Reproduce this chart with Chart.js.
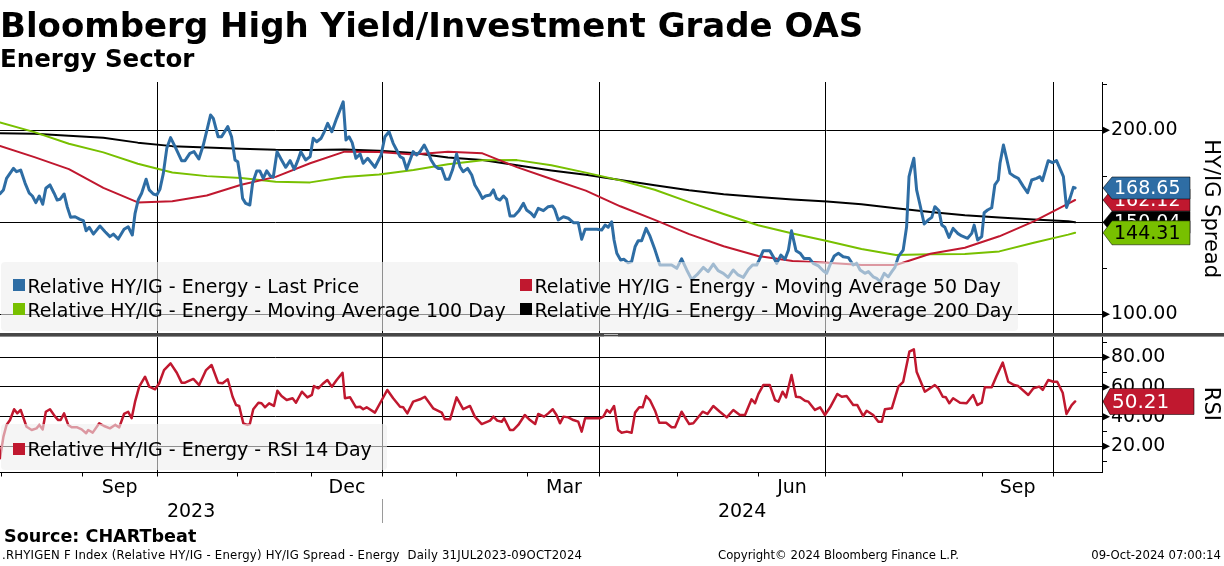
<!DOCTYPE html>
<html><head><meta charset="utf-8">
<script src="https://cdn.jsdelivr.net/npm/chart.js@4.4.1/dist/chart.umd.min.js"></script>
<style>
html,body{margin:0;padding:0;background:#fff;}
#wrap{position:relative;width:1224px;height:566px;overflow:hidden;font-family:'DejaVu Sans',sans-serif;color:#000;}
#c{position:absolute;left:0;top:0;}
.t{position:absolute;white-space:nowrap;}
.lg{position:absolute;background:rgba(238,238,238,0.6);border-radius:4px;}
.sq{position:absolute;width:12px;height:12px;}
.lt{position:absolute;white-space:nowrap;font-size:19px;line-height:19px;color:#000;}
.ft{position:absolute;white-space:nowrap;font-size:11.7px;line-height:11.7px;top:550.1px;}
</style></head>
<body>
<div id="wrap">
<canvas id="c" width="1224" height="566"></canvas>
<div class="t" style="left:0px;top:8.2px;font-size:34px;line-height:34px;font-weight:bold;">Bloomberg High Yield/Investment Grade OAS</div>
<div class="t" style="left:0px;top:47.3px;font-size:24.5px;line-height:24.5px;font-weight:bold;">Energy Sector</div>

<div class="lg" style="left:1px;top:262px;width:1017px;height:69px;"></div>
<div class="sq" style="left:13px;top:279px;background:#2e6da4;"></div>
<div class="lt" style="left:27.5px;top:277.2px;">Relative HY/IG - Energy - Last Price</div>
<div class="sq" style="left:520px;top:279px;background:#c0182f;"></div>
<div class="lt" style="left:534.5px;top:277.2px;">Relative HY/IG - Energy - Moving Average 50 Day</div>
<div class="sq" style="left:13px;top:303px;background:#78c000;"></div>
<div class="lt" style="left:27.5px;top:300.6px;">Relative HY/IG - Energy - Moving Average 100 Day</div>
<div class="sq" style="left:520px;top:303px;background:#000;"></div>
<div class="lt" style="left:534.5px;top:300.6px;">Relative HY/IG - Energy - Moving Average 200 Day</div>

<div class="lg" style="left:1px;top:424px;width:386px;height:46px;"></div>
<div class="sq" style="left:13px;top:443px;background:#c0182f;"></div>
<div class="lt" style="left:27.5px;top:439.6px;">Relative HY/IG - Energy - RSI 14 Day</div>

<div class="t" style="left:4px;top:528.1px;font-size:17.6px;line-height:17.6px;font-weight:bold;">Source: CHARTbeat</div>
<div class="ft" style="left:2px;letter-spacing:0.2px;">.RHYIGEN F Index (Relative HY/IG - Energy) HY/IG Spread - Energy&nbsp; Daily 31JUL2023-09OCT2024</div>
<div class="ft" style="left:718px;">Copyright© 2024 Bloomberg Finance L.P.</div>
<div class="ft" style="right:3px;">09-Oct-2024 07:00:14</div>
</div>
<script>
// ---- DATA (x = trading-day offset from 31 Jul 2023) ----
const priceDays = [0.0,1.0,1.9,3.9,4.8,6.0,7.3,8.5,9.4,10.4,11.4,12.4,13.3,14.5,15.7,16.6,17.4,18.6,19.5,20.5,21.8,23.2,24.2,25.0,25.9,27.1,29.0,30.5,31.9,32.9,34.3,36.0,37.2,38.4,39.2,40.1,41.1,42.4,43.3,44.5,45.5,46.4,47.4,48.4,49.5,50.8,52.7,53.7,55.1,56.3,57.7,59.0,61.1,61.9,63.3,64.3,66.1,67.2,68.2,69.0,69.8,70.4,71.3,72.5,73.3,74.5,75.4,76.4,77.4,78.4,79.3,80.4,81.7,82.9,84.2,85.4,86.4,87.3,88.7,90.0,90.9,91.9,93.2,94.1,95.1,96.3,97.7,99.6,100.4,101.3,102.2,103.3,104.5,105.4,106.7,108.8,110.6,111.7,112.9,114.1,115.1,116.1,117.0,118.0,119.0,119.9,120.9,121.9,123.1,124.1,125.1,126.2,127.2,128.2,129.3,130.3,131.3,132.5,133.5,134.4,135.7,136.9,137.8,139.0,140.0,140.9,142.2,143.2,144.1,145.1,146.1,147.0,148.0,149.2,150.6,151.9,152.8,154.1,155.0,156.2,157.7,159.1,160.3,161.0,162.0,163.5,164.9,166.4,167.8,168.8,169.8,171.2,173.2,174.6,175.6,176.5,177.5,178.2,179.0,180.1,181.1,182.3,183.3,184.3,185.2,186.2,187.5,188.6,190.1,191.5,193.0,194.9,196.4,197.8,199.3,200.7,202.2,204.1,205.5,207.0,208.4,209.9,211.3,212.8,214.2,215.7,217.2,218.4,219.6,220.3,221.5,223.4,224.4,225.4,226.6,227.8,228.8,229.7,231.0,232.2,233.3,234.9,236.0,237.5,238.9,239.9,240.9,242.1,243.3,244.7,246.2,247.6,248.6,249.6,251.0,252.0,253.4,254.4,255.4,256.6,257.8,258.8,259.7,260.7,262.1,263.1,263.8,264.4,265.2,266.0,267.0,268.2,269.4,270.4,271.3,272.5,273.3,274.2,275.4,276.6,277.9,279.1,280.8,282.0,282.7,283.7,284.9,285.6,286.6,287.8,288.7,289.7,290.2,291.2,292.1,293.1,294.5,295.5,297.0,298.2,299.4,300.8,301.8,302.5,304.2,305.4,306.6,308.6,309.5,310.5,311.5,312.0];
const priceVals = [165.6,167.6,173.9,179.3,177.5,178.4,171.2,165.8,164.3,160.7,164.3,159.8,168.5,170.3,165.8,162.1,162.5,165.4,158.5,152.7,153.0,151.6,150.9,145.4,147.3,143.6,148.0,144.9,142.2,143.6,140.9,146.2,147.6,143.1,154.9,162.1,165.8,173.4,167.6,165.4,164.8,167.9,176.6,190.2,196.0,191.1,183.5,183.5,187.5,188.4,184.4,192.0,208.3,206.5,196.5,196.5,202.0,196.5,183.9,182.9,173.0,163.0,160.3,159.4,171.2,177.9,177.9,173.9,178.0,175.2,174.5,188.4,183.9,179.9,183.5,178.8,183.5,188.4,183.9,185.7,195.7,193.8,195.7,199.2,203.8,199.2,206.5,215.5,194.7,196.5,193.3,184.8,187.1,182.1,184.8,179.9,186.6,196.5,199.2,192.9,189.3,185.7,184.8,178.8,183.9,188.4,186.6,188.4,192.0,188.4,183.9,180.6,179.3,179.3,173.4,173.4,178.4,187.1,180.2,177.5,179.3,175.7,170.3,166.6,163.0,164.3,164.8,167.6,163.0,162.1,164.3,162.5,153.4,153.4,156.3,160.3,156.7,154.9,153.0,157.6,156.3,158.5,158.9,157.0,151.3,153.0,152.2,149.8,149.8,140.8,146.2,146.2,146.2,145.8,148.5,147.3,150.3,140.4,133.2,129.5,129.9,128.0,128.6,136.7,140.0,140.0,146.7,142.6,134.9,126.8,126.8,126.8,125.0,130.1,124.1,119.0,121.4,125.5,123.2,127.3,123.7,122.3,120.1,124.1,121.4,120.1,124.5,126.8,126.8,129.5,134.6,134.6,131.3,127.7,132.2,129.9,134.9,145.4,134.6,133.2,130.4,130.4,127.7,126.3,123.7,122.3,127.0,131.7,133.2,131.3,130.8,126.8,127.7,124.1,122.3,123.2,120.4,119.6,117.7,122.3,120.4,123.2,125.5,131.3,134.9,147.6,174.8,179.3,184.8,167.6,159.4,149.1,151.3,152.7,158.5,156.3,148.5,147.3,141.8,146.7,144.0,142.6,141.3,144.0,148.5,140.4,142.2,155.2,156.7,157.9,170.3,173.0,182.1,192.0,184.8,176.6,174.8,173.9,169.4,166.1,173.0,173.9,174.8,172.6,183.5,182.4,183.5,174.8,158.1,163.0,169.0,168.65];

const maDays = [0,10,20,30,40,50,60,70,80,90,100,110,120,130,140,150,160,170,180,190,200,210,220,230,240,250,260,270,280,290,300,310,312];
const ma50  = [191.5,185.4,178.9,168.7,160.8,161.5,164.6,170.4,174.7,182.1,188.4,188.2,186.8,188.4,187.5,180.0,173.5,167.2,158.7,151.3,143.6,137.0,131.7,129.0,128.0,126.8,126.8,132.9,136.2,142.4,150.5,160.2,162.12];
const ma100 = [204.2,199.0,192.7,188.0,181.8,177.1,175.1,174.1,172.1,171.7,174.6,176.0,178.4,181.5,183.7,183.8,181.0,177.0,172.8,167.7,161.0,154.5,148.4,143.9,139.8,135.5,132.2,132.7,132.8,134.2,138.9,143.3,144.31];
const ma200 = [198.4,198.1,197.1,195.9,193.3,191.4,190.6,190.0,189.4,189.3,189.6,188.9,187.7,185.2,183.9,181.0,178.2,175.8,173.0,170.1,167.4,165.3,163.8,162.4,161.3,159.8,157.7,155.6,153.8,152.6,151.5,150.6,150.04];

const rsiDays = [0.0,1.0,1.9,2.9,4.1,5.0,6.0,7.7,9.2,10.6,11.4,12.4,13.3,14.5,16.0,16.9,17.6,18.6,19.8,20.8,22.4,23.7,25.0,25.6,26.9,28.8,30.2,31.9,33.4,34.6,36.0,37.2,38.2,39.2,40.4,42.1,43.3,45.0,46.2,47.6,49.5,51.3,52.7,53.7,56.1,57.8,59.8,61.4,63.3,64.6,66.1,67.5,68.5,69.4,70.6,71.8,72.5,73.5,75.0,75.9,76.9,78.1,79.5,80.5,81.7,83.2,84.9,85.9,87.6,89.2,90.5,91.1,92.4,93.6,95.0,96.3,97.7,99.4,100.1,101.6,103.3,104.5,105.4,106.4,108.8,110.8,112.4,114.1,116.1,117.0,118.2,119.9,121.9,123.3,125.7,128.2,129.1,130.6,132.5,134.4,136.4,137.8,139.8,142.2,143.2,144.3,145.6,146.3,148.0,149.0,150.4,152.3,153.8,155.3,156.2,157.9,159.1,160.4,161.5,162.5,163.5,164.9,166.4,167.8,168.8,169.8,174.1,175.1,176.1,177.0,178.2,179.4,180.4,181.9,183.3,184.3,185.5,186.5,187.5,188.6,190.1,191.3,193.3,194.9,195.9,197.8,200.0,201.2,203.9,205.3,207.0,208.9,210.9,212.8,214.7,216.2,218.1,219.1,220.1,221.5,223.4,224.9,225.9,227.1,228.1,229.7,231.0,232.2,233.6,234.6,236.5,238.0,239.4,240.9,243.0,244.3,245.7,247.6,248.8,250.5,251.5,253.4,254.9,255.9,256.8,258.8,260.7,262.1,263.9,265.2,266.0,268.4,271.3,272.3,273.6,274.5,275.5,276.6,278.6,280.5,282.4,283.6,284.9,285.8,287.8,289.2,291.0,292.6,294.3,295.5,298.4,299.9,301.6,302.6,304.2,305.7,306.8,308.4,309.5,311.0,312.0];
const rsiVals = [11.9,26.5,34.4,37.7,45.0,42.2,44.5,33.2,31.0,32.1,34.4,31.4,43.3,45.0,40.0,37.7,37.7,42.2,34.4,32.8,32.8,31.4,28.8,31.0,29.2,35.5,33.7,32.1,34.4,32.8,41.8,43.3,38.9,50.1,60.2,66.9,60.2,58.4,62.5,71.4,75.9,69.6,62.9,62.9,65.4,61.3,71.4,74.8,62.9,62.5,65.2,53.4,47.8,47.2,35.5,34.4,35.0,45.0,49.4,49.0,46.3,49.0,47.2,57.5,53.9,51.2,52.4,49.4,56.8,53.0,54.6,60.6,59.1,62.0,64.7,60.2,64.7,69.6,52.4,53.0,46.3,46.7,45.0,46.3,42.7,51.2,58.0,52.4,46.7,46.3,42.2,50.1,51.7,53.4,45.6,42.7,38.2,38.2,53.0,45.0,47.2,40.0,35.0,37.3,40.0,37.3,36.6,38.9,31.0,31.0,34.4,41.1,37.7,35.0,41.8,40.0,42.2,45.0,41.1,35.5,40.0,39.5,37.7,36.6,29.9,38.9,38.9,40.0,44.5,42.7,47.2,31.0,29.2,29.9,29.2,42.7,46.3,46.3,53.9,51.2,44.0,35.9,35.9,32.8,32.8,43.3,35.0,35.5,43.3,41.8,47.2,43.3,39.5,44.5,41.1,41.1,51.7,49.0,55.3,61.3,61.3,51.2,50.1,56.8,53.0,68.1,53.4,53.0,50.7,50.1,44.5,46.3,41.1,46.3,55.3,53.4,53.9,47.8,47.8,40.4,44.0,41.1,36.6,36.6,45.0,45.6,60.2,63.5,83.8,85.4,70.3,56.8,61.3,59.1,53.4,53.0,49.0,52.4,49.4,49.0,54.6,47.8,49.4,59.8,59.8,67.4,76.4,63.5,61.3,60.6,54.6,59.1,60.2,58.0,64.7,63.5,63.5,56.1,41.8,47.8,50.21];

// axis ticks / labels
const monthTicks = [0.3,23.8,45.6,68.8,90.5,110.9,132.6,153.2,174.1,196.7,220.0,239.7,262.0,285.0,305.6];
const monthNames = ['Aug','Sep','Oct','Nov','Dec','Jan','Feb','Mar','Apr','May','Jun','Jul','Aug','Sep','Oct'];
const gridMonths = ['Oct','Jan','Apr','Jul'];
const labelMonths = ['Sep','Dec','Mar','Jun'];
const yearTexts = ['2023','2024'];
const topTicks = [100,125,150,175,200,225];
const topGrid = [100,150,200];
const topLabels = [100,200];
const botTicks = [10,20,30,40,50,60,70,80,90];
const botGrid = [20,40,60,80];
const botLabels = [20,40,60,80];

// ---- styles ----
const BLUE='#2e6da4', RED='#c0182f', GREEN='#78c000', BLACK='#000000';
const X_MIN=0, X_MAX=319.8;

const gridTickVals = monthTicks.filter((v,i)=>gridMonths.includes(monthNames[i]));
const labelPos=[], labelTxt=[];
monthTicks.forEach((v,i)=>{ if(labelMonths.includes(monthNames[i]) && i+1<monthTicks.length){ labelPos.push((v+monthTicks[i+1])/2); labelTxt.push(monthNames[i]); }});
const yearBoundary = monthTicks[monthNames.indexOf('Jan')];
const yearPos = [(X_MIN+yearBoundary)/2,(yearBoundary+X_MAX)/2];

const pts=(xs,ys)=>xs.map((x,i)=>({x:x,y:ys[i]}));
const last=a=>a[a.length-1];

Chart.defaults.font.family="'DejaVu Sans', sans-serif";
Chart.defaults.color='#000';

function tag(ctx,x0,y,txt,fill,tc,h,bodyW,w,font){
  ctx.beginPath();
  ctx.moveTo(x0,y);
  ctx.lineTo(x0+bodyW,y-h/2);
  ctx.lineTo(x0+w,y-h/2);
  ctx.lineTo(x0+w,y+h/2);
  ctx.lineTo(x0+bodyW,y+h/2);
  ctx.closePath();
  ctx.fillStyle=fill; ctx.fill();
  ctx.lineWidth=1; ctx.strokeStyle='rgba(0,0,0,0.55)'; ctx.stroke();
  ctx.fillStyle=tc; ctx.font=font; ctx.textAlign='left'; ctx.textBaseline='middle';
  ctx.fillText(txt,x0+bodyW+2,y+1);
}

const overlay={
  id:'overlay',
  afterDraw(chart){
    const ctx=chart.ctx, ca=chart.chartArea, yT=chart.scales.yTop, yB=chart.scales.yBot, sx=chart.scales.x, sy=chart.scales.xYear;
    ctx.save();
    // panel separator
    const sep=Math.round(yT.bottom);
    ctx.fillStyle='#474747'; ctx.fillRect(0,sep-2,chart.width,3);
    ctx.fillStyle='#8c8c8c'; ctx.fillRect(0,sep+1,chart.width,1);
    const gx=(ca.left+ca.right)/2+60;
    ctx.fillStyle='#b8b8b8'; ctx.fillRect(gx-7,sep-1,14,1); ctx.fillRect(gx-7,sep+1,14,1);
    // year separator
    const bx=Math.round(sx.getPixelForValue(yearBoundary))+0.5;
    ctx.strokeStyle='#9a9a9a'; ctx.lineWidth=1;
    ctx.beginPath(); ctx.moveTo(bx,sy.top); ctx.lineTo(bx,523); ctx.stroke();
    // arrow heads on labeled ticks
    ctx.fillStyle='#000';
    const arr=(y)=>{ctx.beginPath();ctx.moveTo(ca.right,y-4);ctx.lineTo(ca.right+8,y);ctx.lineTo(ca.right,y+4);ctx.closePath();ctx.fill();};
    topLabels.forEach(v=>arr(yT.getPixelForValue(v)));
    botLabels.forEach(v=>arr(yB.getPixelForValue(v)));
    // last value tags
    const x0=ca.right+1, f='19px "DejaVu Sans"';
    tag(ctx,x0,yT.getPixelForValue(last(ma200)),last(ma200).toFixed(2),BLACK,'#fff',22,9,87,f);
    tag(ctx,x0,yT.getPixelForValue(last(ma50)),last(ma50).toFixed(2),RED,'#fff',22,9,87,f);
    tag(ctx,x0,yT.getPixelForValue(last(ma100)),last(ma100).toFixed(2),GREEN,'#000',24,9,87,f);
    tag(ctx,x0,yT.getPixelForValue(last(priceVals)),last(priceVals).toFixed(2),BLUE,'#fff',22,9,87,f);
    tag(ctx,x0,yB.getPixelForValue(last(rsiVals)),last(rsiVals).toFixed(2),RED,'#fff',26,7,91,'20px "DejaVu Sans"');
    ctx.restore();
  }
};

const tickSetter=vals=>s=>{ s.ticks=vals.map(v=>({value:v})); };

new Chart(document.getElementById('c'),{
  type:'line',
  data:{datasets:[
    {label:'Last Price',data:pts(priceDays,priceVals),borderColor:BLUE,borderWidth:3,yAxisID:'yTop',xAxisID:'x'},
    {label:'MA 50',data:pts(maDays,ma50),borderColor:RED,borderWidth:2,yAxisID:'yTop',xAxisID:'x'},
    {label:'MA 100',data:pts(maDays,ma100),borderColor:GREEN,borderWidth:2,yAxisID:'yTop',xAxisID:'x'},
    {label:'MA 200',data:pts(maDays,ma200),borderColor:BLACK,borderWidth:2,yAxisID:'yTop',xAxisID:'x'},
    {label:'RSI 14',data:pts(rsiDays,rsiVals),borderColor:RED,borderWidth:2.5,yAxisID:'yBot',xAxisID:'x'}
  ]},
  options:{
    responsive:false, animation:false,
    elements:{point:{radius:0},line:{tension:0,borderJoinStyle:'round',borderCapStyle:'round'}},
    layout:{padding:{top:82,left:0,right:0,bottom:42}},
    plugins:{legend:{display:false},tooltip:{enabled:false}},
    scales:{
      x:{type:'linear',position:'bottom',min:X_MIN,max:X_MAX,
        afterBuildTicks:tickSetter(monthTicks), afterFit:s=>{s.height=4;},
        ticks:{display:false},
        grid:{color:c=>(c.tick&&gridTickVals.includes(c.tick.value))?'#000':'rgba(0,0,0,0)',lineWidth:1,drawTicks:true,tickLength:4,tickColor:'#000'},
        border:{display:true,color:'#000'}},
      xLab:{type:'linear',position:'bottom',min:X_MIN,max:X_MAX,
        afterBuildTicks:tickSetter(labelPos), afterFit:s=>{s.height=22.5;},
        ticks:{autoSkip:false,maxRotation:0,padding:0,font:{size:19},color:'#000',callback:(v,i)=>labelTxt[i]},
        grid:{display:false,drawTicks:false},border:{display:false}},
      xYear:{type:'linear',position:'bottom',min:X_MIN,max:X_MAX,
        afterBuildTicks:tickSetter(yearPos), afterFit:s=>{s.height=25;},
        ticks:{autoSkip:false,maxRotation:0,padding:2,font:{size:19},color:'#000',callback:(v,i)=>yearTexts[i]},
        grid:{display:false,drawTicks:false},border:{display:false}},
      yTop:{type:'linear',position:'right',stack:'panels',stackWeight:253.3,min:88.6,max:226.25,
        afterBuildTicks:tickSetter(topTicks), afterFit:s=>{s.width=122;},
        ticks:{autoSkip:false,padding:4,font:{size:19},color:'#000',callback:v=>topLabels.includes(v)?v.toFixed(2):''},
        grid:{color:c=>(c.tick&&topGrid.includes(c.tick.value))?'#000':'rgba(0,0,0,0)',lineWidth:1,drawTicks:true,tickLength:5,tickColor:'#000'},
        border:{display:true,color:'#000'},
        title:{display:true,text:'HY/IG Spread',font:{size:21},color:'#000',padding:{top:1,bottom:0}}},
      yBot:{type:'linear',position:'right',stack:'panels',stackWeight:137.2,min:2.34,max:94.83,
        afterBuildTicks:tickSetter(botTicks), afterFit:s=>{s.width=122;},
        ticks:{autoSkip:false,padding:4,font:{size:19},color:'#000',callback:v=>botLabels.includes(v)?v.toFixed(2):''},
        grid:{color:c=>(c.tick&&botGrid.includes(c.tick.value))?'#000':'rgba(0,0,0,0)',lineWidth:1,drawTicks:true,tickLength:5,tickColor:'#000'},
        border:{display:true,color:'#000'},
        title:{display:true,text:'RSI',font:{size:21},color:'#000',padding:{top:1,bottom:0}}}
    }
  },
  plugins:[overlay]
});
</script>
</body></html>
